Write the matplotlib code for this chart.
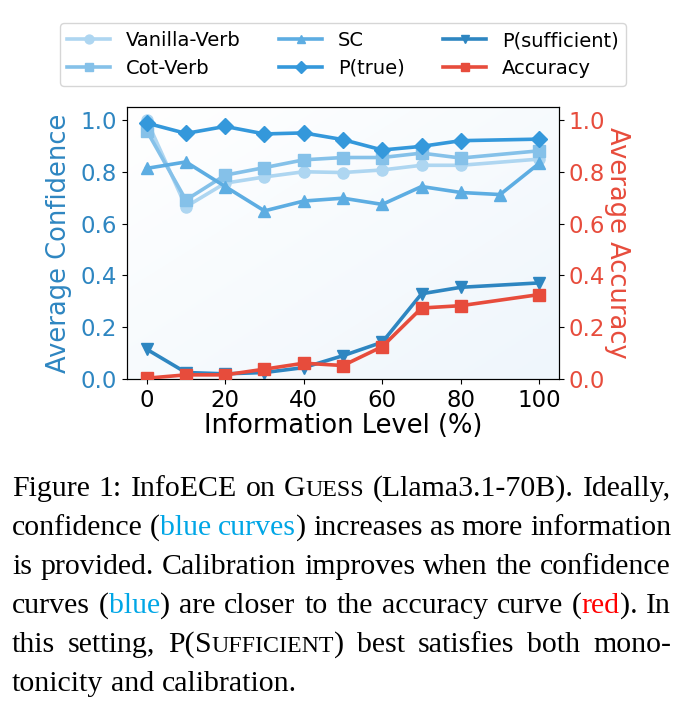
import numpy as np
import matplotlib
matplotlib.use("Agg")
import matplotlib.pyplot as plt
from matplotlib.colors import LinearSegmentedColormap

# data
info_levels = [0, 10, 20, 30, 40, 50, 60, 70, 80, 100]
sc_levels = [0, 10, 20, 30, 40, 50, 60, 70, 80, 90, 100]

vanilla_verb = [1.00, 0.665, 0.756, 0.780, 0.800, 0.797, 0.807, 0.825, 0.825, 0.849]
cot_verb = [0.959, 0.691, 0.787, 0.816, 0.846, 0.855, 0.855, 0.872, 0.853, 0.881]
sc = [0.813, 0.838, 0.743, 0.649, 0.687, 0.698, 0.674, 0.743, 0.720, 0.712, 0.833]
p_true = [0.988, 0.948, 0.975, 0.946, 0.950, 0.924, 0.884, 0.898, 0.920, 0.926]
p_sufficient = [0.115, 0.025, 0.020, 0.025, 0.044, 0.090, 0.142, 0.329, 0.354, 0.371]
accuracy = [0.003, 0.016, 0.016, 0.038, 0.061, 0.052, 0.125, 0.274, 0.283, 0.326]

yticks = [0.0, 0.2, 0.4, 0.6, 0.8, 1.0]
xticks = [0, 20, 40, 60, 80, 100]

BLUE_LABEL = "#2e86c1"
RED = "#e74c3c"

W, H = 691, 701
fig = plt.figure(figsize=(W / 100, H / 100), dpi=100)
ax = fig.add_axes([127 / W, 1 - 379 / H, (559 - 127) / W, (379 - 107) / H])

# faint diagonal gradient behind the curves
grad_cmap = LinearSegmentedColormap.from_list("bg", ["#ffffff", "#eff6fc"])
gx, gy = np.meshgrid(np.linspace(0, 1, 200), np.linspace(0, 1, 200))
ax.imshow((gx + gy) / 2, cmap=grad_cmap, extent=[0, 1, 0, 1], transform=ax.transAxes,
          aspect="auto", zorder=0, origin="upper", vmin=0, vmax=1)

lw, ms = 2.6, 8
ax.plot(info_levels, vanilla_verb, marker="o", color="#aed6f1", lw=lw, ms=ms, label="Vanilla-Verb", zorder=3)
ax.plot(info_levels, cot_verb, marker="s", color="#85c1e9", lw=lw, ms=ms, label="Cot-Verb", zorder=3)
ax.plot(sc_levels, sc, marker="^", color="#5dade2", lw=lw, ms=ms, label="SC", zorder=3)
ax.plot(info_levels, p_true, marker="D", color="#3498db", lw=lw, ms=ms, label="P(true)", zorder=3)
ax.plot(info_levels, p_sufficient, marker="v", color="#2e86c1", lw=lw, ms=ms, label="P(sufficient)", zorder=3)

ax2 = ax.twinx()
ax2.plot(info_levels, accuracy, marker="s", color=RED, lw=lw, ms=ms, label="Accuracy", zorder=3)

ax.set_xlim(-5, 105)
ax.set_ylim(0, 1.05)
ax2.set_ylim(0, 1.05)
ax.set_xticks(xticks)
ax.set_yticks(yticks)
ax2.set_yticks(yticks)
ax.tick_params(axis="both", labelsize=16.5)
ax.tick_params(axis="y", labelcolor=BLUE_LABEL)
ax2.tick_params(axis="y", labelsize=16.5, labelcolor=RED)
ax.set_xlabel("Information Level (%)", fontsize=18.5, labelpad=1)
ax.set_ylabel("Average Confidence", fontsize=18.5, color=BLUE_LABEL, labelpad=6)
ax2.set_ylabel("Average Accuracy", fontsize=18.5, color=RED, rotation=270, labelpad=18)

h1, l1 = ax.get_legend_handles_labels()
h2, l2 = ax2.get_legend_handles_labels()
fig.legend(h1 + h2, l1 + l2, ncol=3, loc="center", bbox_to_anchor=(343 / W, 1 - 54.5 / H),
           fontsize=14, handlelength=2.2, columnspacing=2.0, labelspacing=0.45,
           markerscale=0.8, frameon=True)

# caption below the chart, justified like the paper
CAP_BLUE = "#00a6e6"
CAP_RED = "#ff0000"
cap_size = 21.5
sc_size = cap_size * 0.8
K = "black"
lines = [
    [[("Figure", K, cap_size)], [("1:", K, cap_size)], [("InfoECE", K, cap_size)], [("on", K, cap_size)],
     [("G", K, cap_size), ("UESS", K, sc_size)], [("(Llama3.1-70B).", K, cap_size)], [("Ideally,", K, cap_size)]],
    [[("confidence", K, cap_size)], [("(", K, cap_size), ("blue", CAP_BLUE, cap_size)],
     [("curves", CAP_BLUE, cap_size), (")", K, cap_size)], [("increases", K, cap_size)], [("as", K, cap_size)],
     [("more", K, cap_size)], [("information", K, cap_size)]],
    [[("is", K, cap_size)], [("provided.", K, cap_size)], [("Calibration", K, cap_size)], [("improves", K, cap_size)],
     [("when", K, cap_size)], [("the", K, cap_size)], [("confidence", K, cap_size)]],
    [[("curves", K, cap_size)], [("(", K, cap_size), ("blue", CAP_BLUE, cap_size), (")", K, cap_size)],
     [("are", K, cap_size)], [("closer", K, cap_size)], [("to", K, cap_size)], [("the", K, cap_size)],
     [("accuracy", K, cap_size)], [("curve", K, cap_size)],
     [("(", K, cap_size), ("red", CAP_RED, cap_size), (").", K, cap_size)], [("In", K, cap_size)]],
    [[("this", K, cap_size)], [("setting,", K, cap_size)],
     [("P(", K, cap_size), ("S", K, cap_size), ("UFFICIENT", K, sc_size), (")", K, cap_size)],
     [("best", K, cap_size)], [("satisfies", K, cap_size)], [("both", K, cap_size)], [("mono-", K, cap_size)]],
    [[("tonicity", K, cap_size)], [("and", K, cap_size)], [("calibration.", K, cap_size)]],
]
baselines = [496, 535, 574, 613, 652, 691]
left_px, right_px = 12, 671
renderer = fig.canvas.get_renderer()
serif = ["Liberation Serif", "DejaVu Serif"]


def run_width(text, size):
    t = fig.text(0, 0, text, fontsize=size, family=serif)
    w = t.get_window_extent(renderer=renderer).width
    t.remove()
    return w


space_w = run_width("a b", cap_size) - run_width("ab", cap_size)
for i, (words, base) in enumerate(zip(lines, baselines)):
    widths = [sum(run_width(txt, sz) for txt, _, sz in word) for word in words]
    if i < len(lines) - 1:
        gap = (right_px - left_px - sum(widths)) / (len(words) - 1)
    else:
        gap = space_w
    x = left_px
    for word, w in zip(words, widths):
        xx = x
        for txt, col, sz in word:
            fig.text(xx / W, 1 - base / H, txt, fontsize=sz, family=serif, color=col,
                     ha="left", va="baseline")
            xx += run_width(txt, sz)
        x += w + gap

fig.savefig("out.png", dpi=100)
